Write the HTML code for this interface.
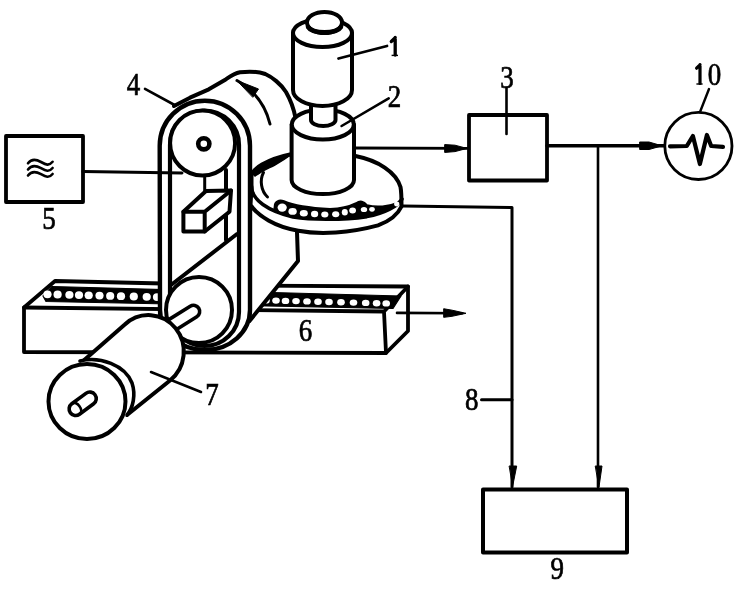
<!DOCTYPE html>
<html><head><meta charset="utf-8">
<style>
html,body{margin:0;padding:0;background:#fff;}
svg{display:block;}
text{font-family:"Liberation Serif",serif;font-size:31px;fill:#000;stroke:#000;stroke-width:0.7px;}
</style></head><body>
<svg width="745" height="601" viewBox="0 0 745 601">
<rect x="0" y="0" width="745" height="601" fill="#fff"/>
<g fill="none" stroke="#000" stroke-width="4" stroke-linecap="round" stroke-linejoin="round">

<!-- ===== right side schematic ===== -->
<path d="M355,148 L468,148.4" stroke-width="2.8"/>
<path d="M445,144.6 L455,145.2 L467,148.4 L455,151.6 L445,152.4 Z" fill="#000" stroke-width="1"/>
<rect x="469" y="115" width="78" height="65.5" stroke-width="3.8"/>
<path d="M506.5,88 L506.5,134" stroke-width="2.6"/>
<path d="M547,145.8 L664,145.8" stroke-width="3.4"/>
<path d="M640,142 L649,142 L662,145.8 L649,149.5 L640,149.5 Z" fill="#000" stroke-width="1"/>
<path d="M598,146 L598,487" stroke-width="2.6"/>
<path d="M595.6,466 L602,466 L599,487 Z" fill="#000" stroke-width="1"/>
<circle cx="698.4" cy="145.9" r="33.6" stroke-width="2.8"/>
<path d="M709,89 L700,112" stroke-width="2.4"/>
<path d="M670,146.3 L686.8,146 L692.9,136 L699.9,164 L706.9,135 L711.2,146 L723,146.8" stroke-width="4.2"/>
<path d="M403,206 L512,207.5 L512,487" stroke-width="3"/>
<path d="M509.5,466 L516.7,466 L512.7,486 Z" fill="#000" stroke-width="1"/>
<rect x="483" y="489.5" width="144" height="63" stroke-width="4"/>
<path d="M481.5,399.8 L512,399.8" stroke-width="3"/>

<!-- ===== box 5 ===== -->
<rect x="6" y="136" width="77" height="66" stroke-width="3.8"/>
<path d="M28,163.3 C31,159.4 36,159.2 41,162.0 S49,166.2 52.6,161.8 M28,169.5 C31,165.6 36,165.4 41,168.2 S49,172.4 52.6,168.0 M28,175.5 C31,171.6 36,171.4 41,174.2 S49,178.4 52.6,174.0" stroke-width="2.6"/>
<!-- leader 4 -->
<path d="M145,88.8 L175.5,105.5" stroke-width="2.6"/>

<!-- ===== conveyor 6 ===== -->
<path d="M24,307.5 L55,281 L250,285.5 L408,286.5 L408,331 L386,353 L24,352 Z" fill="#fff" stroke-width="3.8"/>
<path d="M24,307.5 L384,311.5 L408,286.5 M384,311.5 L386,353" stroke-width="3.8"/>
<path d="M52,286.5 L401,296 L393,308.5 L46,301.5 L43,296 Z" fill="#000" stroke-width="1.2"/>
<g fill="#fff" stroke="none">
<ellipse cx="47.5" cy="294.3" rx="4.1" ry="3.9"/>
<ellipse cx="57.6" cy="294.5" rx="4.1" ry="3.9"/>
<ellipse cx="69.4" cy="294.8" rx="4.1" ry="3.9"/>
<ellipse cx="79.0" cy="295.1" rx="4.1" ry="3.9"/>
<ellipse cx="88.7" cy="295.3" rx="4.1" ry="3.9"/>
<ellipse cx="99.5" cy="295.6" rx="4.1" ry="3.9"/>
<ellipse cx="110.2" cy="295.9" rx="4.1" ry="3.9"/>
<ellipse cx="121.0" cy="296.2" rx="4.1" ry="3.9"/>
<ellipse cx="133.8" cy="296.5" rx="4.1" ry="3.9"/>
<ellipse cx="146.7" cy="296.8" rx="4.1" ry="3.9"/>
<ellipse cx="157.0" cy="297.1" rx="4.1" ry="3.9"/>
<ellipse cx="266.0" cy="300.4" rx="3.8" ry="3.2"/>
<ellipse cx="276.0" cy="300.6" rx="3.8" ry="3.2"/>
<ellipse cx="285.5" cy="300.9" rx="3.8" ry="3.2"/>
<ellipse cx="296.0" cy="301.1" rx="3.8" ry="3.2"/>
<ellipse cx="307.0" cy="301.4" rx="3.8" ry="3.2"/>
<ellipse cx="318.0" cy="301.7" rx="3.8" ry="3.2"/>
<ellipse cx="329.0" cy="302.0" rx="3.8" ry="3.2"/>
<ellipse cx="341.0" cy="302.3" rx="3.8" ry="3.2"/>
<ellipse cx="353.5" cy="302.6" rx="3.8" ry="3.2"/>
<ellipse cx="365.7" cy="302.9" rx="3.8" ry="3.2"/>
<ellipse cx="376.6" cy="303.2" rx="3.8" ry="3.2"/>
<ellipse cx="386.2" cy="303.4" rx="3.8" ry="3.2"/>
</g>
<path d="M397,312.9 L462,313.3" stroke-width="2.6"/>
<path d="M444,308.8 L452,310.2 L466,313.3 L452,316.3 L444,317.3 Z" fill="#000" stroke-width="1"/>

<!-- ===== drum behind belt ===== -->
<path d="M174,106 L190,97.7 L208.8,89.3 L225.7,79.4 C230,76.5 234,73.5 240,72.3 C250,71 258,71.5 265.3,74 C272,77 281,84 286,92 C290,99 293.5,107 295.5,118 L296,180 L240,240 L172,240 Z" fill="#fff" stroke="none"/>
<path d="M174,106 L190,97.7 L208.8,89.3 L225.7,79.4 C230,76.5 234,73.5 240,72.3 C250,71 258,71.5 265.3,74 C272,77 281,84 286,92 C290,99 293.5,107 295.5,118"/>
<!-- drum arrow -->
<path d="M237,80.5 C252,89 265,103 270,124" stroke-width="3"/>
<path d="M237,80.5 L258.5,89 L253,97 Z" fill="#000" stroke-width="1"/>

<!-- ===== support plate right ===== -->
<path d="M248,228 L297,228 L298,261 L249.5,321 Z" fill="#fff" stroke="none"/>
<path d="M297,232 L298,261 L249.5,321"/>

<!-- ===== belt loops ===== -->
<path d="M159.7,145.85 A45.15,45.15 0 0 1 250,145.85 L250,310 A45,40 0 0 1 160,310 Z" fill="#fff" stroke-width="4.4"/>
<path d="M170,145 A34.5,34.5 0 0 1 239,145 L239,312 A34.5,34 0 0 1 170,312 Z" fill="#fff" stroke-width="4.2"/>
<!-- upper pulley -->
<circle cx="202.6" cy="143" r="32.5" fill="#fff" stroke-width="4"/>
<circle cx="203.8" cy="143.8" r="5.6" stroke-width="4.6"/>
<!-- box 5 line -->
<path d="M83,171.5 L182,173" stroke-width="3"/>
<!-- sensor bracket -->
<path d="M204.7,176 L204.7,191" stroke-width="3"/>
<path d="M226,170 L226,240"/>
<path d="M237,234 L171,285"/>
<!-- sensor block -->
<path d="M183.4,211.7 L206,191 L231,190.5 L229.5,211.7 L204.7,231.5 L183.4,231.5 Z" fill="#fff" stroke-width="4"/>
<path d="M183.4,211.7 L204.7,211.7 L231,190.5 M204.7,211.7 L204.7,231.5" stroke-width="4"/>

<!-- lower pulley -->
<circle cx="199" cy="310" r="33" fill="#fff" stroke-width="4"/>

<!-- ===== disk ===== -->
<path d="M251.5,188 L251.5,176 C252,172 256,168 262,164.5 C270,160 280,156.5 292,154 L355.5,156 C378,160.5 396,172 400.5,187 C401.5,192 401.5,200 401.5,206.5 C398,214 390,221 378,225.4 C350,233 320,235 298.3,230.8 C275,227 258,216 250.5,205 Z" fill="#fff" stroke-width="4"/>
<path d="M251.5,186 C251.5,200 268,211 293,216.9 C310,219.5 340,220.5 366.8,216.6 C385,213 398,206 402,199" stroke-width="3.6"/>
<path d="M274.5,206 C274.5,201.5 279,199 284,201 C292,204.5 305,207.5 330,208.8 C340,208.5 350,206 356,203 C360,200 364,201 367,205 C376,207.5 389,206.5 398,202.5 L401,200 C398,206 385,213 366.8,216.6 C340,220.5 310,219.5 293,216.9 C286,215 280,213 274,210 Z" fill="#000" stroke-width="1.5"/>
<g fill="#fff" stroke="none">
<ellipse cx="282.2" cy="207.6" rx="4.6" ry="4.2"/>
<ellipse cx="292.6" cy="211.4" rx="4.2" ry="3.4"/>
<ellipse cx="303.8" cy="213.3" rx="4" ry="3.2"/>
<ellipse cx="314.6" cy="214" rx="3.6" ry="3.2"/>
<ellipse cx="324.8" cy="214.6" rx="3.6" ry="3"/>
<ellipse cx="335.7" cy="214.2" rx="3.6" ry="3"/>
<ellipse cx="344.8" cy="212.3" rx="3" ry="3.2"/>
<ellipse cx="352.6" cy="210.5" rx="3.4" ry="3"/>
<ellipse cx="364" cy="209.5" rx="3.2" ry="2.6"/>
<ellipse cx="372" cy="209.3" rx="2.8" ry="2.4"/>
<ellipse cx="396.7" cy="204" rx="2.6" ry="2.4"/>
</g>
<!-- disk arrow -->
<path d="M267.5,197 C261,191 259.5,180 263.5,172.5" stroke-width="3"/>
<path d="M252.5,172 C255,168.5 258,166.5 262,164.5 C270,160 280,156.5 292,154 C288,157 282,161 274.8,165 C270,167.5 266,169 263,171 C260,173 257,175 255,176 Z" fill="#000" stroke-width="1.5"/>

<!-- ===== cylinder 2 ===== -->
<path d="M291.6,124.5 L291.6,180 A31,14 0 0 0 354,180 L354,124.5 Z" fill="#fff" stroke-width="4"/>
<ellipse cx="322.8" cy="124.5" rx="31" ry="15" fill="#fff" stroke-width="4"/>
<!-- shaft -->
<path d="M311,104 L311,120 A12.25,6 0 0 0 335.5,120 L335.5,104" fill="#fff" stroke-width="4"/>

<!-- ===== motor 1 ===== -->
<path d="M293,33 L293,90 A29.5,16 0 0 0 352,90 L352,33 Z" fill="#fff" stroke-width="4"/>
<ellipse cx="322.5" cy="33" rx="29.5" ry="14" fill="#fff" stroke-width="4"/>
<ellipse cx="324.5" cy="22.5" rx="17.5" ry="10.5" fill="#fff" stroke-width="4"/>
<path d="M308,27 A17,7 0 0 0 341,27" stroke-width="4.5"/>
<path d="M338.5,58.5 L387,46" stroke-width="2.8"/>
<path d="M341.6,126 L388.7,98.4" stroke-width="2.6"/>

<!-- ===== motor 7 ===== -->
<!-- shaft to lower pulley -->
<g transform="translate(193.5,311.5) rotate(-32)">
<path d="M-30,-6.2 L0,-6.2 A6.2,6.2 0 0 1 0,6.2 L-30,6.2" fill="#fff" stroke-width="3.6"/>
</g>
<path d="M82,362 L124.8,324.5 A35.3,36.5 0 1 1 170,380.5 L127,415 Z" fill="#fff" stroke="none"/>
<path d="M82,362 L124.8,324.5 A35.3,36.5 0 1 1 170,380.5 L127,415" stroke-width="4"/>
<path d="M80,361 C100,356 125,365 132,383 C136,395 133,408 127,415 L100,430 Z" fill="#fff" stroke="none"/>
<path d="M80,361 C100,356 125,365 132,383 C136,395 133,408 127,415" stroke-width="3.6"/>
<ellipse cx="87" cy="401.5" rx="38.5" ry="37.5" fill="#fff" stroke-width="4"/>
<g transform="translate(82.7,403.8) rotate(-36.5)">
<rect x="-15.3" y="-6.5" width="30.6" height="13" rx="6.5" fill="#fff" stroke-width="3.6"/>
<path d="M-7.5,-6.2 A3.5,6.2 0 0 1 -7.5,6.2" stroke-width="2.6"/>
</g>
<path d="M151,372 L201,392" stroke-width="2.6"/>

</g>

<!-- labels -->
<g style="will-change:transform">
<path d="M395.2,37.5 L395.2,55 M395.2,37.8 L391.3,41.5" fill="none" stroke="#000" stroke-width="3.3" stroke-linecap="round"/>
<path d="M391.6,55.4 L398,55.4" fill="none" stroke="#000" stroke-width="1.4"/>
<text transform="translate(394.55,107.4) scale(0.87,1)" text-anchor="middle">2</text>
<text transform="translate(507,88) scale(0.87,1)" text-anchor="middle">3</text>
<text transform="translate(133.5,95) scale(0.87,1)" text-anchor="middle">4</text>
<text transform="translate(49,229) scale(0.87,1)" text-anchor="middle">5</text>
<text transform="translate(305.45,340.9) scale(0.87,1)" text-anchor="middle">6</text>
<text transform="translate(212,405) scale(0.87,1)" text-anchor="middle">7</text>
<text transform="translate(471.7,409.6) scale(0.87,1)" text-anchor="middle">8</text>
<text transform="translate(557.3,578.8) scale(0.87,1)" text-anchor="middle">9</text>
<text transform="translate(714.6,84.6) scale(0.87,1)" text-anchor="middle">0</text>
<path d="M700,64.5 L700,83.5 M700,64.8 L696.6,68.2" fill="none" stroke="#000" stroke-width="3.2" stroke-linecap="round"/>
<path d="M696.4,84 L702.6,84" fill="none" stroke="#000" stroke-width="1.4"/>
</g>
</svg>
</body></html>
